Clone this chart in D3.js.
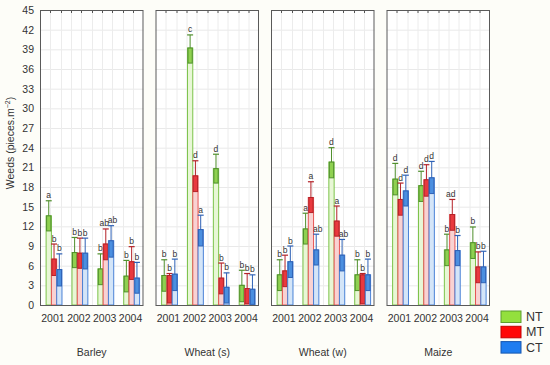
<!DOCTYPE html>
<meta charset="utf-8">

<!-- Load d3.js -->
<script src="https://d3js.org/d3.v7.min.js"></script>

<style>
  body { margin: 0; background: #fdfdf8; }
  text { font-family: "Liberation Sans Narrow", "Arial Narrow", "Liberation Sans", Arial, sans-serif; fill: #333; }
</style>

<!-- Create a div where the graph will take place -->
<div id="my_dataviz"></div>

<script>

// Categories
var crops = ["Barley", "Wheat (s)", "Wheat (w)", "Maize"];
var years = ["2001", "2002", "2003", "2004"];
var treatments = ["NT", "MT", "CT"];
var yTicks = [0, 3, 6, 9, 12, 15, 18, 21, 24, 27, 30, 33, 36, 39, 42, 45];

// Means (top of bar), lower end of box, upper end of whisker, per crop then year
var ntMean = [[13.6, 8.0, 5.5, 4.4], [4.5, 39.2, 20.8, 3.0], [4.6, 11.6, 21.8, 4.6], [19.2, 18.2, 8.4, 9.5]];
var ntLow  = [[11.3, 5.7, 3.1, 2.0], [2.1, 36.9, 18.6, 0.5], [2.2, 9.3, 19.4, 2.2], [16.8, 15.8, 6.0, 7.1]];
var ntHigh = [[15.9, 10.3, 7.8, 6.8], [6.9, 41.2, 23.0, 5.3], [6.9, 14.0, 24.0, 6.9], [21.6, 20.4, 10.8, 11.9]];
var ntLetters = [["a", "b", "b", "b"], ["b", "c", "d", "b"], ["b", "a", "d", "b"], ["d", "d", "b", "b"]];

var mtMean = [[7.0, 7.9, 9.3, 6.6], [4.5, 19.7, 4.1, 2.5], [5.2, 16.4, 12.8, 4.6], [16.1, 19.1, 13.8, 5.8]];
var mtLow  = [[4.5, 5.6, 6.9, 3.9], [0.3, 17.3, 1.7, 0.2], [2.8, 14.1, 10.5, 0.2], [13.7, 16.6, 11.4, 3.4]];
var mtHigh = [[9.3, 10.2, 11.6, 8.9], [4.8, 22.0, 6.4, 4.8], [7.6, 18.8, 15.1, 4.8], [18.6, 21.4, 16.1, 8.1]];
var mtLetters = [["b", "b", "ab", "b"], ["b", "d", "b", "b"], ["b", "a", "a", "b"], ["d", "d", "ad", "b"]];

var ctMean = [[5.4, 7.9, 9.8, 4.1], [4.7, 11.5, 2.7, 2.4], [6.6, 8.4, 7.6, 4.6], [17.4, 19.4, 8.3, 5.8]];
var ctLow  = [[2.9, 5.5, 7.3, 1.8], [2.2, 9.0, 0.3, 0.1], [4.2, 6.1, 5.2, 2.2], [15.1, 17.0, 6.0, 3.4]];
var ctHigh = [[7.8, 10.2, 12.1, 6.5], [7.0, 13.7, 4.9, 4.6], [9.0, 10.8, 10.0, 7.0], [19.8, 21.9, 10.6, 8.2]];
var ctLetters = [["b", "b", "ab", "b"], ["b", "a", "b", "b"], ["b", "ab", "ab", "b"], ["d", "d", "b", "b"]];

// Colours per treatment: light bar, bar outline, box fill, whisker / box outline, legend
var colors = {
  NT: {bar: "#e8f7d6", line: "#7cc34a", box: "#8fd150", dark: "#4f8f2c", legend: "#93e03d", legendLine: "#5d9e2e"},
  MT: {bar: "#f9d2d2", line: "#e65454", box: "#e9393e", dark: "#b42228", legend: "#ff0808", legendLine: "#c40000"},
  CT: {bar: "#d4e5f8", line: "#4a82d6", box: "#4b8fe0", dark: "#2f62b6", legend: "#1f7df0", legendLine: "#1657b0"}
};

// nudge for two-letter labels so neighbours do not collide
var letterShift = {NT: 0, MT: -1.5, CT: 1.5};

var series = {
  NT: {mean: ntMean, low: ntLow, high: ntHigh, letters: ntLetters},
  MT: {mean: mtMean, low: mtLow, high: mtHigh, letters: mtLetters},
  CT: {mean: ctMean, low: ctLow, high: ctHigh, letters: ctLetters}
};

// Flatten for d3
var data = [];
crops.forEach(function(c, ci) {
  years.forEach(function(yr, yi) {
    treatments.forEach(function(t) {
      var s = series[t];
      data.push({crop: c, year: yr, t: t, mean: s.mean[ci][yi], low: s.low[ci][yi], high: s.high[ci][yi], letter: s.letters[ci][yi]});
    });
  });
});

var W = 550, H = 365;
var svg = d3.select("#my_dataviz")
  .append("svg")
  .attr("width", W)
  .attr("height", H);

// Scales
var y = d3.scaleLinear().domain([0, 45]).range([305, 10]);
var xCrop = d3.scaleBand().domain(crops).range([40, 490]).paddingInner(0.104).paddingOuter(0);
var pw = xCrop.bandwidth();
var xYear = d3.scaleBand().domain(years).range([0, pw]);
var xTreat = d3.scaleBand().domain(treatments).range([5.6, xYear.bandwidth() - 4.4]);

// Y axis
svg.append("g")
  .attr("transform", "translate(40,0)")
  .call(d3.axisLeft(y).tickValues(yTicks).tickSize(0).tickPadding(6))
  .call(function(g) { g.select(".domain").remove(); })
  .selectAll("text")
  .style("font-size", "10.5px")
  .style("font-family", "\"Liberation Sans Narrow\", \"Arial Narrow\", \"Liberation Sans\", Arial, sans-serif")
  .attr("fill", "#333");

// Y axis title
var yl = svg.append("text")
  .attr("transform", "translate(14,143) rotate(-90)")
  .attr("text-anchor", "middle")
  .style("font-size", "10.5px");
yl.append("tspan").text("Weeds (pieces.m");
yl.append("tspan").attr("dy", -4).style("font-size", "7px").text("\u22122");
yl.append("tspan").attr("dy", 4).text(")");

// Panels
var panels = svg.selectAll(".panel")
  .data(crops)
  .enter()
  .append("g")
  .attr("class", "panel")
  .attr("transform", function(c) { return "translate(" + xCrop(c) + ",0)"; });

panels.append("rect")
  .attr("x", 0).attr("y", y(45))
  .attr("width", pw).attr("height", y(0) - y(45))
  .attr("fill", "#ffffff");

// grid
var vDiv = d3.range(1, 10).map(function(i) { return i * pw / 10; });
panels.selectAll(".hgrid")
  .data(yTicks)
  .enter().append("line")
  .attr("x1", 0).attr("x2", pw)
  .attr("y1", function(d) { return y(d) + 0.5; })
  .attr("y2", function(d) { return y(d) + 0.5; })
  .attr("stroke", "#e9e9e9");
panels.selectAll(".vgrid")
  .data(vDiv)
  .enter().append("line")
  .attr("x1", function(d) { return Math.round(d) + 0.5; })
  .attr("x2", function(d) { return Math.round(d) + 0.5; })
  .attr("y1", y(45)).attr("y2", y(0))
  .attr("stroke", "#ececec");

// top ticks
panels.selectAll(".ttick")
  .data(vDiv)
  .enter().append("line")
  .attr("x1", function(d) { return Math.round(d) + 0.5; })
  .attr("x2", function(d) { return Math.round(d) + 0.5; })
  .attr("y1", y(45)).attr("y2", y(45) + 3)
  .attr("stroke", "#555");

// bars
panels.each(function(c) {
  var g = d3.select(this);
  var rows = data.filter(function(d) { return d.crop === c; });
  var bw = xTreat.bandwidth();

  var items = g.selectAll(".bar")
    .data(rows)
    .enter().append("g")
    .attr("class", "bar")
    .attr("transform", function(d) { return "translate(" + (xYear(d.year) + xTreat(d.t)) + ",0)"; });

  items.append("rect")
    .attr("x", 0.5)
    .attr("y", function(d) { return y(d.mean); })
    .attr("width", bw)
    .attr("height", function(d) { return y(0) - y(d.mean); })
    .attr("fill", function(d) { return colors[d.t].bar; })
    .attr("stroke", function(d) { return colors[d.t].line; })
    .attr("stroke-width", 1);

  items.append("rect")
    .attr("x", 1)
    .attr("y", function(d) { return y(d.mean); })
    .attr("width", bw - 1)
    .attr("height", function(d) { return y(d.low) - y(d.mean); })
    .attr("fill", function(d) { return colors[d.t].box; })
    .attr("stroke", function(d) { return colors[d.t].dark; })
    .attr("stroke-width", 1);

  items.append("line")
    .attr("x1", bw / 2 + 0.5).attr("x2", bw / 2 + 0.5)
    .attr("y1", function(d) { return y(d.mean); })
    .attr("y2", function(d) { return y(d.high); })
    .attr("stroke", function(d) { return colors[d.t].dark; });

  items.append("line")
    .attr("x1", bw / 2 - 2.5).attr("x2", bw / 2 + 3.5)
    .attr("y1", function(d) { return y(d.high); })
    .attr("y2", function(d) { return y(d.high); })
    .attr("stroke", function(d) { return colors[d.t].dark; })
    .attr("stroke-width", 1.2);

  items.append("text")
    .attr("x", function(d) { return bw / 2 + 0.5 + (d.letter.length > 1 ? letterShift[d.t] : 0); })
    .attr("y", function(d) { return y(d.high) - 2.5; })
    .attr("text-anchor", "middle")
    .style("font-size", "8.5px")
    .attr("fill", "#444")
    .text(function(d) { return d.letter; });
});

// borders
panels.append("rect")
  .attr("x", 0.5).attr("y", y(45) + 0.5)
  .attr("width", pw - 1).attr("height", y(0) - y(45))
  .attr("fill", "none")
  .attr("stroke", "#5a5a5a");

// year labels
panels.selectAll(".year")
  .data(years)
  .enter().append("text")
  .attr("x", function(d) { return xYear(d) + xYear.bandwidth() / 2; })
  .attr("y", 322)
  .attr("text-anchor", "middle")
  .style("font-size", "10.5px")
  .text(function(d) { return d; });

// crop labels
panels.append("text")
  .attr("x", pw / 2)
  .attr("y", 356)
  .attr("text-anchor", "middle")
  .style("font-size", "10.5px")
  .text(function(c) { return c; });

// legend
var legend = svg.selectAll(".legend")
  .data(treatments)
  .enter().append("g")
  .attr("class", "legend")
  .attr("transform", function(d, i) { return "translate(501," + (311 + i * 15.3) + ")"; });
legend.append("rect")
  .attr("width", 20).attr("height", 11.5)
  .attr("fill", function(d) { return colors[d].legend; })
  .attr("stroke", function(d) { return colors[d].legendLine; });
legend.append("text")
  .attr("x", 25).attr("y", 10)
  .style("font-size", "12.5px")
  .text(function(d) { return d; });

</script>
